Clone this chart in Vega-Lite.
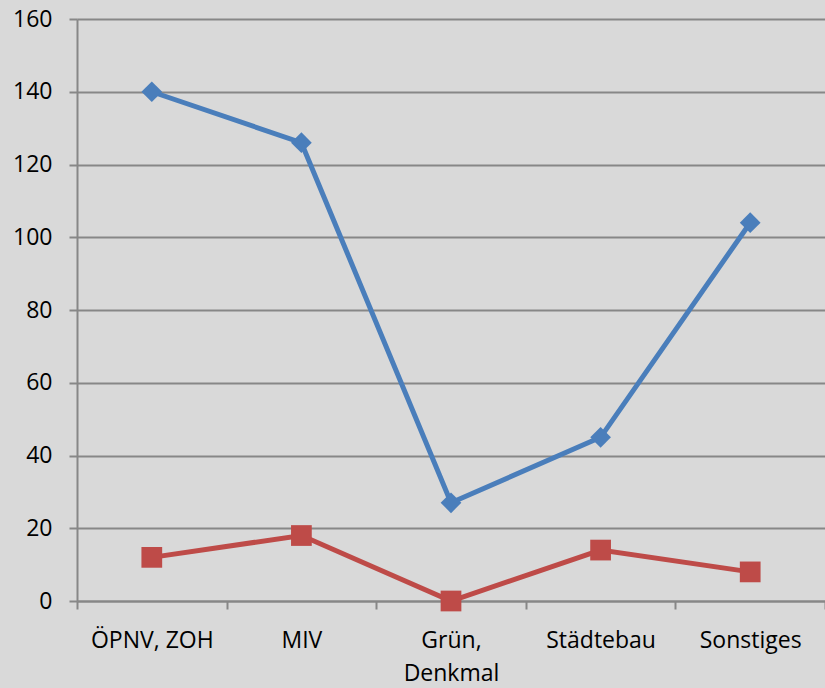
{
  "$schema": "https://vega.github.io/schema/vega-lite/v6.json",
  "width": 748,
  "height": 582,
  "autosize": {"type": "none"},
  "padding": {"left": 77, "top": 19, "right": 0, "bottom": 87},
  "background": "#d9d9d9",
  "config": {
    "view": {"stroke": null},
    "font": "Open Sans",
    "axis": {"labelFont": "Open Sans", "labelColor": "#000000", "domainColor": "#878787", "tickColor": "#878787", "gridColor": "#878787", "domainWidth": 2, "tickWidth": 2, "gridWidth": 2, "tickSize": 8, "title": null}
  },
  "data": {
    "values": [
      {"category": "ÖPNV, ZOH", "series": "A", "value": 140},
      {"category": "MIV", "series": "A", "value": 126},
      {"category": "Grün, Denkmal", "series": "A", "value": 27},
      {"category": "Städtebau", "series": "A", "value": 45},
      {"category": "Sonstiges", "series": "A", "value": 104},
      {"category": "ÖPNV, ZOH", "series": "B", "value": 12},
      {"category": "MIV", "series": "B", "value": 18},
      {"category": "Grün, Denkmal", "series": "B", "value": 0},
      {"category": "Städtebau", "series": "B", "value": 14},
      {"category": "Sonstiges", "series": "B", "value": 8}
    ]
  },
  "encoding": {
    "x": {
      "field": "category",
      "type": "nominal",
      "sort": ["ÖPNV, ZOH", "MIV", "Grün, Denkmal", "Städtebau", "Sonstiges"],
      "scale": {"type": "band", "paddingInner": 0, "paddingOuter": 0},
      "axis": {"labelAngle": 0, "labelFontSize": 23, "tickBand": "extent", "grid": false, "labelPadding": 20, "labelLineHeight": 33, "labelExpr": "datum.value == 'Grün, Denkmal' ? ['Grün,', 'Denkmal'] : datum.label"}
    },
    "y": {
      "field": "value",
      "type": "quantitative",
      "scale": {"domain": [0, 160], "nice": false},
      "axis": {"values": [0, 20, 40, 60, 80, 100, 120, 140, 160], "labelFontSize": 23, "labelPadding": 17, "grid": true}
    },
    "color": {"field": "series", "type": "nominal", "scale": {"domain": ["A", "B"], "range": ["#4a7ebb", "#be4b48"]}, "legend": null}
  },
  "layer": [
    {"mark": {"type": "line", "strokeWidth": 5}},
    {
      "mark": {"type": "point", "filled": true, "opacity": 1, "size": 430},
      "encoding": {
        "shape": {"field": "series", "type": "nominal", "scale": {"domain": ["A", "B"], "range": ["diamond", "square"]}, "legend": null}
      }
    }
  ]
}
